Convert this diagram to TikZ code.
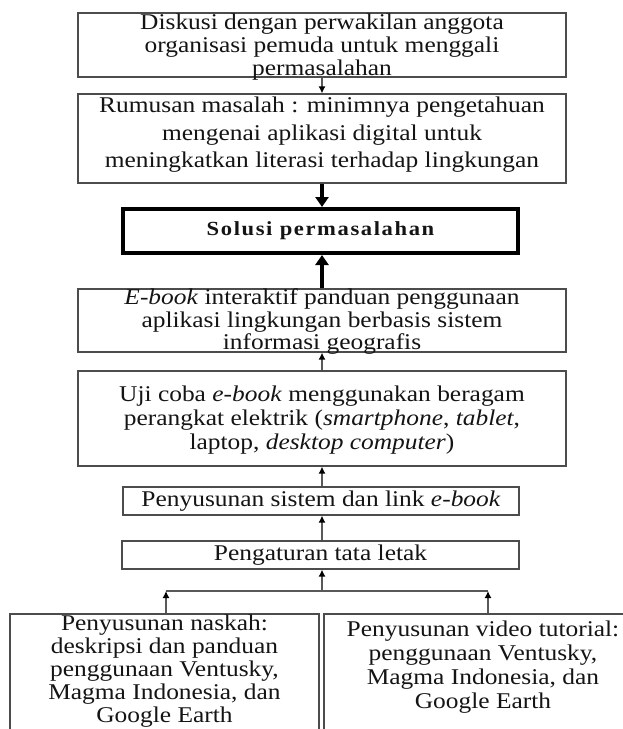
\documentclass[tikz,border=0pt]{standalone}
\usepackage{fontspec}
\setmainfont{Liberation Serif}[FakeStretch=1.13]
\usetikzlibrary{arrows.meta}
\begin{document}
\begin{tikzpicture}[x=1pt,y=-1pt,
  box/.style={draw=black!70, line width=1.2pt, inner sep=0pt, minimum width=488pt},
  txt/.style={align=center, font=\fontsize{22.5}{23}\selectfont, text=black!92, inner sep=0pt},
  arr/.style={draw=black!65, line width=1.3pt, -{Latex[length=7pt,width=7pt,black]}},
  thickarr/.style={draw=black, line width=4pt, -{Triangle[length=10pt,width=13pt]}},
  plainline/.style={draw=black!65, line width=1.3pt}
]
\useasboundingbox (0,0) rectangle (623,729);
\clip (0,0) rectangle (623,729);
\fill[white] (0,0) rectangle (623,729);

% boxes
\node[box, minimum height=64pt] (b1) at (322,45) {};
\node[box, minimum height=89pt] (b2) at (322,138.5) {};
\node[draw=black, line width=4pt, inner sep=0pt, minimum width=395pt, minimum height=44pt] (b3) at (320.5,231) {};
\node[box, minimum height=63pt] (b4) at (322,320.5) {};
\node[box, minimum height=95pt] (b5) at (322,418.5) {};
\node[box, minimum width=396pt, minimum height=28pt] (b6) at (321,501) {};
\node[box, minimum width=397pt, minimum height=28pt] (b7) at (320.5,555) {};
\node[box, minimum width=309pt, minimum height=116pt] (b8) at (164.5,672) {};
\node[box, minimum width=318pt, minimum height=116pt] (b9) at (483,672) {};

% texts
\node[txt] (t1) at (322,47.5) {Diskusi dengan perwakilan anggota\\organisasi pemuda untuk menggali\\permasalahan};
\node[txt, font=\fontsize{22.5}{27.5}\selectfont] (t2) at (322,135) {Rumusan masalah : minimnya pengetahuan\\mengenai aplikasi digital untuk\\meningkatkan literasi terhadap lingkungan};
\node[txt, font=\fontsize{20}{24}\selectfont\bfseries\addfontfeature{LetterSpace=8}] (t3) at (320.5,231) {Solusi permasalahan};
\node[txt, font=\fontsize{22.5}{22.5}\selectfont] (t4) at (322,322) {\textit{E-book} interaktif panduan penggunaan\\aplikasi lingkungan berbasis sistem\\informasi geografis};
\node[txt, font=\fontsize{22.5}{24}\selectfont] (t5) at (322,420.5) {Uji coba \textit{e-book} menggunakan beragam\\perangkat elektrik (\textit{smartphone}, \textit{tablet},\\laptop, \textit{desktop computer})};
\node[txt] (t6) at (321,501) {Penyusunan sistem dan link \textit{e-book}};
\node[txt] (t7) at (320.5,555) {Pengaturan tata letak};
\node[txt, font=\fontsize{22.5}{23}\selectfont] (t8) at (164.5,671.5) {Penyusunan naskah:\\deskripsi dan panduan\\penggunaan Ventusky,\\Magma Indonesia, dan\\Google Earth};
\node[txt, font=\fontsize{22.5}{24}\selectfont] (t9) at (483,667.5) {Penyusunan video tutorial:\\penggunaan Ventusky,\\Magma Indonesia, dan\\Google Earth};

% connectors
\coordinate (j) at (322,591);
\coordinate (jl) at (166,591);
\coordinate (jr) at (488,591);
\draw[arr] (b1.south) -- (b2.north);
\draw[thickarr] (b2.south) -- (b2.south |- b3.north);
\draw[thickarr] (b4.north) -- (b4.north |- b3.south);
\draw[arr] (b5.north) -- (b4.south);
\draw[arr] (b5.south |- b6.north) -- (b5.south);
\draw[arr] (b5.south |- b7.north) -- (b5.south |- b6.south);
\draw[plainline] (jl) -- (jr);
\draw[arr] (j) -- (j |- b7.south);
\draw[arr] (jl |- b8.north) -- (jl);
\draw[arr] (jr |- b9.north) -- (jr);
\end{tikzpicture}
\end{document}
